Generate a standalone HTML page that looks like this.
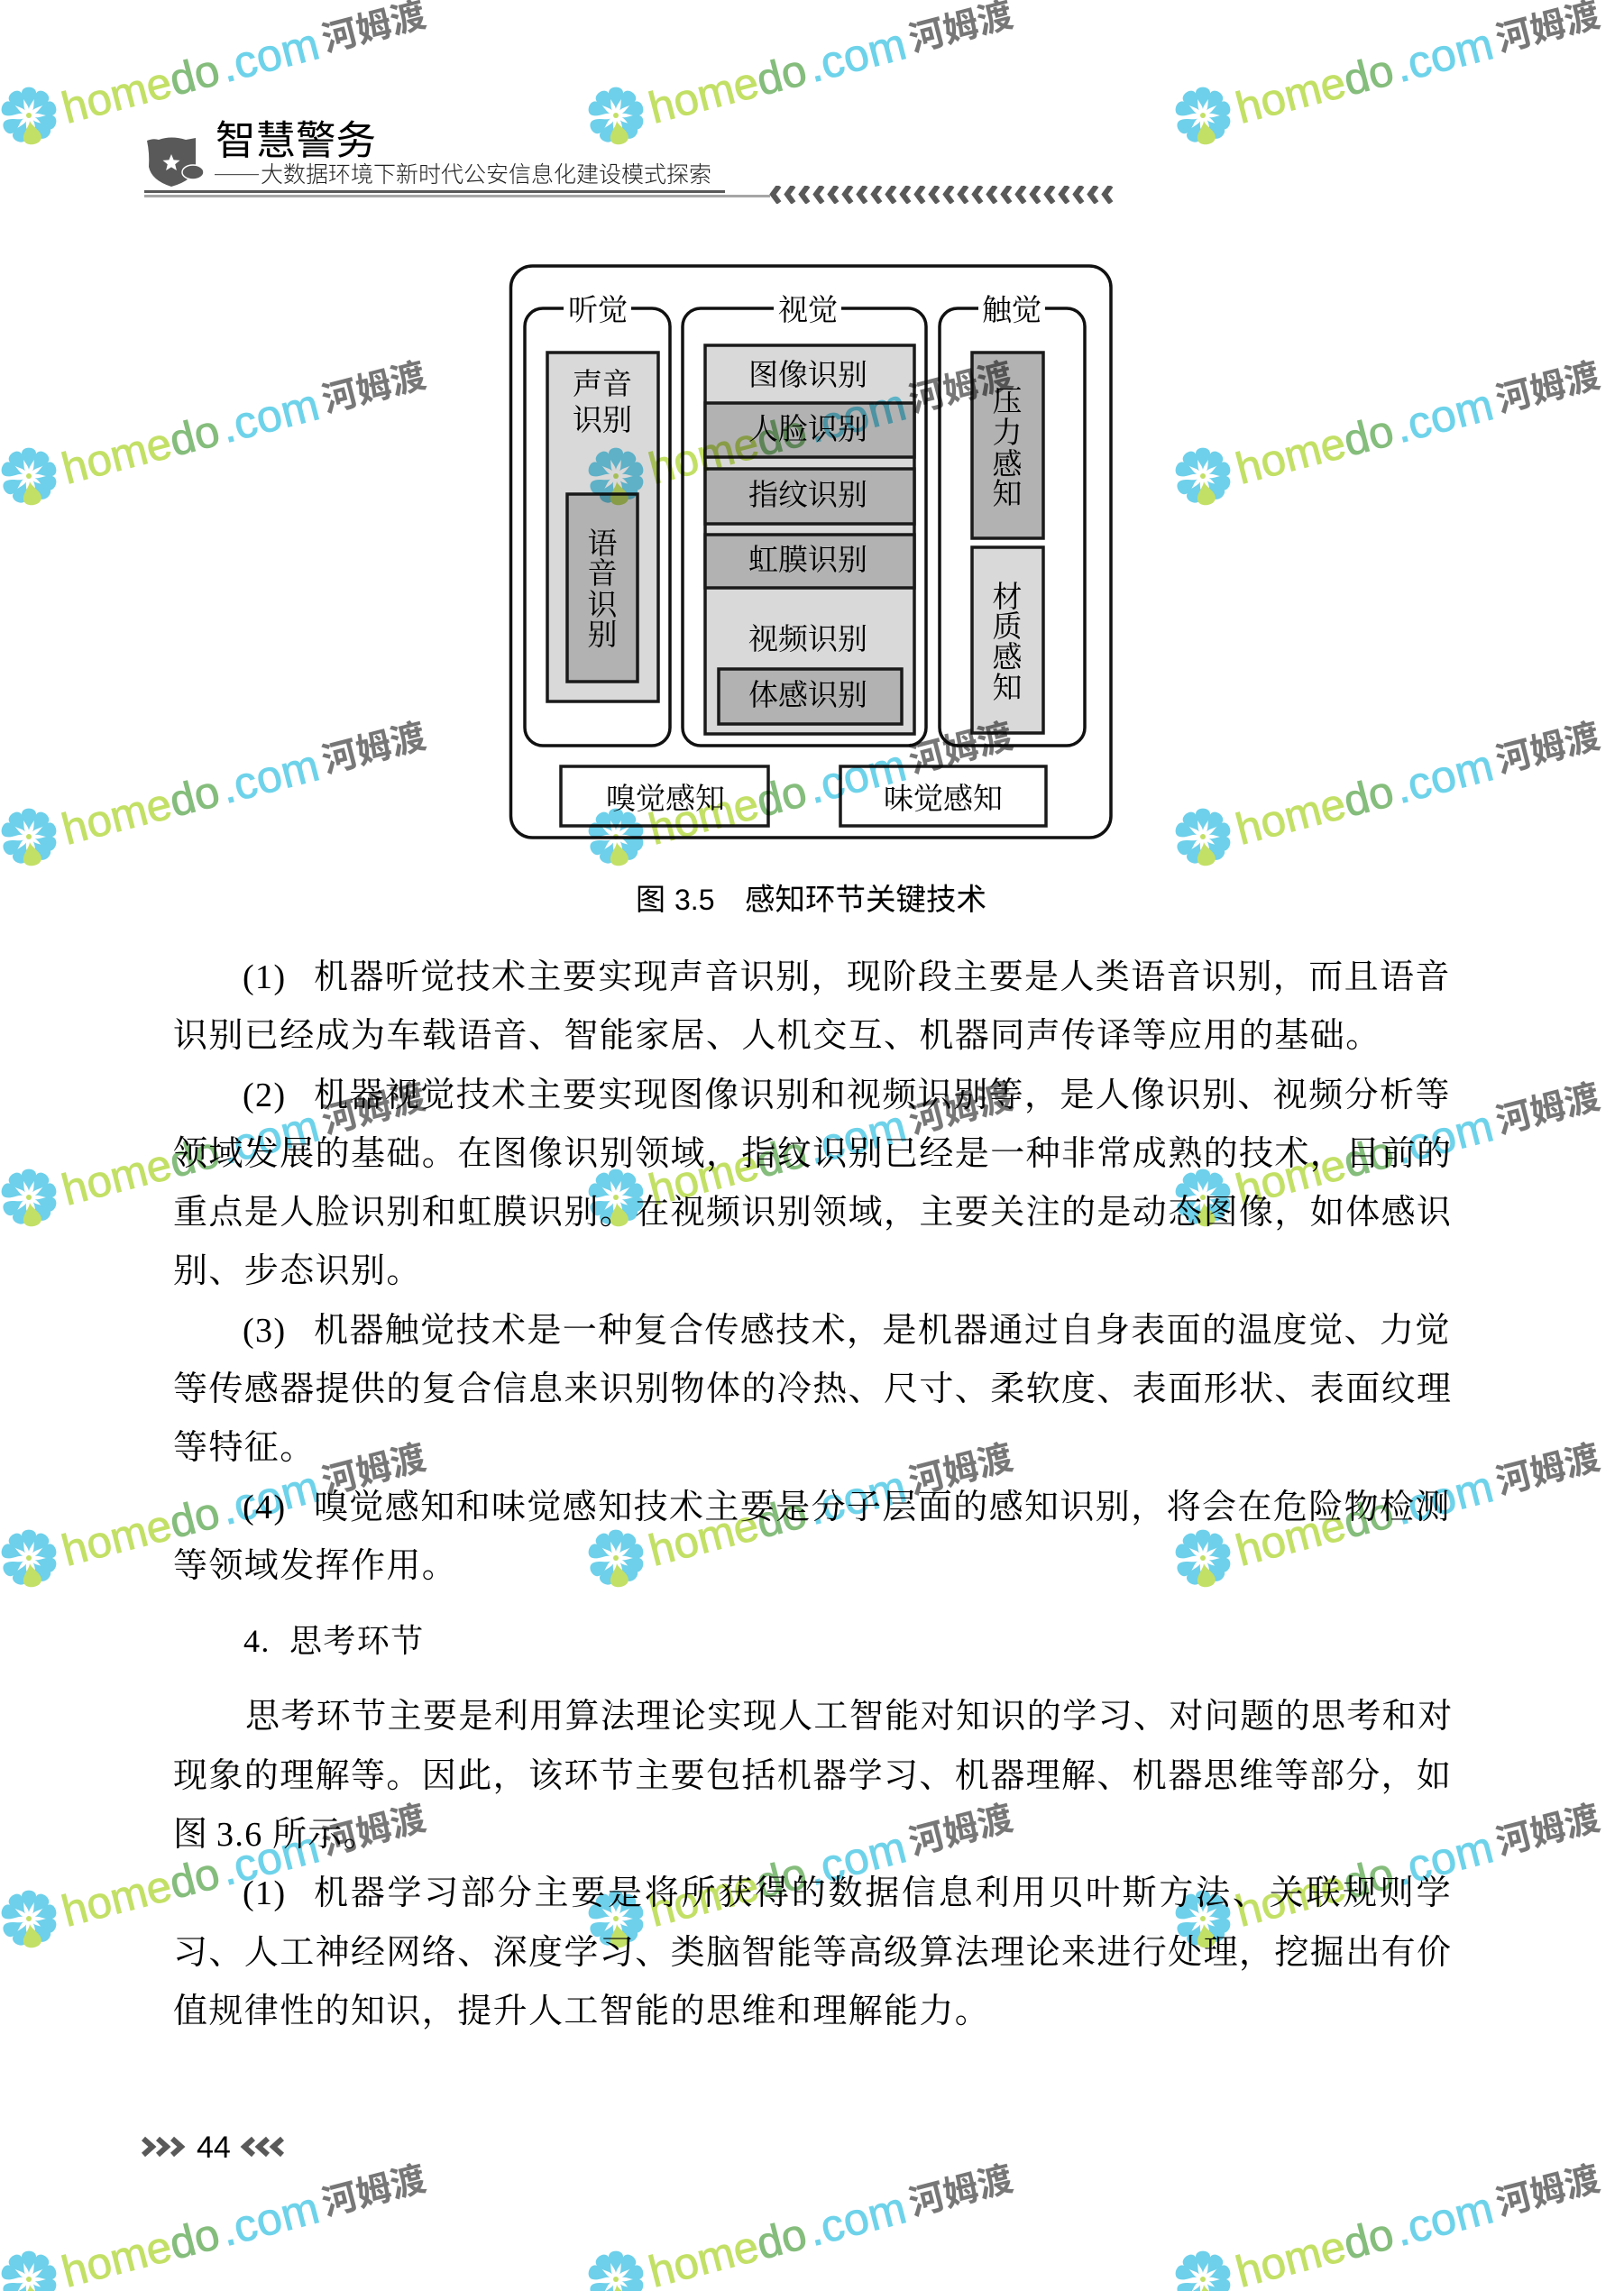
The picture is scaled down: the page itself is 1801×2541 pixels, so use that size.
<!DOCTYPE html>
<html lang="zh"><head><meta charset="utf-8"><title>智慧警务</title>
<style>
html,body{margin:0;padding:0;background:#fff}
svg{display:block}
.b{font-family:"Liberation Serif","Noto Serif CJK SC",serif;font-size:38px;letter-spacing:1.4px;fill:#000}
.d{font-family:"Liberation Serif","Noto Serif CJK SC",serif;font-size:33px;fill:#000;text-anchor:middle}
.h{font-family:"Liberation Sans","Noto Sans CJK SC",sans-serif}
.w1{font-family:"Liberation Sans",sans-serif;font-size:49px;fill:#c3e066;stroke:#c3e066;stroke-width:.9}
.w2{font-family:"Liberation Sans",sans-serif;font-size:50px;fill:#6ed3ea;stroke:#6ed3ea;stroke-width:.9}
.w3{font-family:"Liberation Sans","Noto Sans CJK SC",sans-serif;font-size:39px;font-weight:700;fill:#777}
.g{fill:#85bd7c;stroke:#85bd7c}
.bx{stroke:#1a1a1a;stroke-width:3.5}
.rb{fill:#fff;stroke:#111;stroke-width:3.5}
</style></head><body>
<svg xmlns="http://www.w3.org/2000/svg" width="1801" height="2541" viewBox="0 0 1801 2541">
<defs>
<path id="pt" d="M0,-7C-1,-13 -8,-18 -8,-25C-8,-33.5 8,-33.5 8,-25C8,-18 1,-13 0,-7Z"/>
<path id="pg" d="M0,-6C-1,-12 -10,-18 -10,-25C-10,-35 10,-35 10,-25C10,-18 1,-12 0,-6Z"/>
<g id="fl" transform="translate(32,128)">
<g fill="#6ed0ea">
<use href="#pt"/><use href="#pt" transform="rotate(36)"/><use href="#pt" transform="rotate(72)"/><use href="#pt" transform="rotate(108)"/><use href="#pt" transform="rotate(138)"/><use href="#pt" transform="rotate(204)"/><use href="#pt" transform="rotate(240)"/><use href="#pt" transform="rotate(288)"/><use href="#pt" transform="rotate(324)"/>
</g>
<use href="#pg" fill="#c3e066" transform="rotate(171)"/>
<circle r="3" fill="#c3e066"/>
</g>
<pattern id="chev" patternUnits="userSpaceOnUse" x="852" y="206" width="16" height="20">
<path d="M12,0L5,9.5L12,19" fill="none" stroke="#595959" stroke-width="6"/>
</pattern>
</defs>
<rect width="1801" height="2541" fill="#fff"/>

<!-- header -->
<path d="M163,156Q170,153 176,155Q190,150 206,155Q212,154 217,153L217,185Q215,200 190,207Q168,200 165,185Q166,170 163,156Z" fill="#595959"/>
<ellipse cx="214" cy="191" rx="12" ry="8" fill="#595959" stroke="#fff" stroke-width="1.5"/>
<polygon points="190,171 192.6,177.4 199.5,177.9 194.2,182.3 195.9,189 190,185.4 184.1,189 185.8,182.3 180.5,177.9 187.4,177.4" fill="#fff"/>
<text class="h" x="239" y="171" font-size="44.5" fill="#000">智慧警务</text>
<rect x="238" y="193" width="49" height="1.2" fill="#555"/>
<text class="h" x="289" y="202" font-size="25" font-weight="300" fill="#222">大数据环境下新时代公安信息化建设模式探索</text>
<rect x="160" y="211" width="644" height="3" fill="#595959"/>
<rect x="160" y="216" width="694" height="3" fill="#a6a6a6"/>
<rect x="852" y="206" width="385" height="20" fill="url(#chev)"/>

<!-- diagram -->
<rect x="566.5" y="295" width="665.5" height="634" rx="24" class="rb"/>
<rect x="582" y="342" width="161" height="485" rx="20" class="rb"/>
<rect x="757" y="342" width="270" height="485" rx="20" class="rb"/>
<rect x="1042" y="342" width="161" height="485" rx="20" class="rb"/>
<rect x="625" y="335" width="75" height="14" fill="#fff"/>
<rect x="858" y="335" width="75" height="14" fill="#fff"/>
<rect x="1085" y="335" width="74" height="14" fill="#fff"/>
<text class="d" x="663" y="355">听觉</text>
<text class="d" x="896" y="355">视觉</text>
<text class="d" x="1122" y="355">触觉</text>

<rect x="607" y="391" width="123" height="387" fill="#d9d9d9" class="bx"/>
<rect x="629" y="548" width="78" height="208" fill="#b2b2b2" class="bx"/>
<text class="d" x="668" y="437">声音</text>
<text class="d" x="668" y="477">识别</text>
<text class="d" x="668" y="614">语</text>
<text class="d" x="668" y="647">音</text>
<text class="d" x="668" y="682">识</text>
<text class="d" x="668" y="715">别</text>

<rect x="782" y="383" width="232" height="431" fill="#d9d9d9" class="bx"/>
<rect x="782" y="447" width="232" height="60" fill="#b2b2b2" class="bx"/>
<rect x="782" y="520" width="232" height="61" fill="#b2b2b2" class="bx"/>
<rect x="782" y="593" width="232" height="59" fill="#b2b2b2" class="bx"/>
<rect x="797" y="742" width="203" height="61" fill="#b2b2b2" class="bx"/>
<text class="d" x="896" y="427">图像识别</text>
<text class="d" x="896" y="487">人脸识别</text>
<text class="d" x="896" y="560">指纹识别</text>
<text class="d" x="896" y="632">虹膜识别</text>
<text class="d" x="896" y="720">视频识别</text>
<text class="d" x="896" y="782">体感识别</text>

<rect x="1078" y="391" width="79" height="206" fill="#b2b2b2" class="bx"/>
<rect x="1078" y="607" width="79" height="206" fill="#d9d9d9" class="bx"/>
<text class="d" x="1117" y="456">压</text>
<text class="d" x="1117" y="491">力</text>
<text class="d" x="1117" y="526">感</text>
<text class="d" x="1117" y="559">知</text>
<text class="d" x="1117" y="673">材</text>
<text class="d" x="1117" y="706">质</text>
<text class="d" x="1117" y="740">感</text>
<text class="d" x="1117" y="774">知</text>

<rect x="622" y="850" width="230" height="66" fill="#fff" class="bx"/>
<rect x="932" y="850" width="228" height="66" fill="#fff" class="bx"/>
<text class="d" x="738" y="897">嗅觉感知</text>
<text class="d" x="1046" y="897">味觉感知</text>

<text class="h" x="705" y="1009" font-size="33" fill="#000">图</text>
<text class="h" x="748" y="1009" font-size="32" fill="#000">3.5</text>
<text class="h" x="826" y="1009" font-size="33.5" fill="#000">感知环节关键技术</text>

<!-- body -->
<text class="b" x="269" y="1096">(1)</text>
<text class="b" x="348" y="1096">机器听觉技术主要实现声音识别，现阶段主要是人类语音识别，而且语音</text>
<text class="b" x="192" y="1161">识别已经成为车载语音、智能家居、人机交互、机器同声传译等应用的基础。</text>
<text class="b" x="269" y="1227">(2)</text>
<text class="b" x="348" y="1227">机器视觉技术主要实现图像识别和视频识别等，是人像识别、视频分析等</text>
<text class="b" x="192" y="1292">领域发展的基础。在图像识别领域，指纹识别已经是一种非常成熟的技术，目前的</text>
<text class="b" x="192" y="1357">重点是人脸识别和虹膜识别。在视频识别领域，主要关注的是动态图像，如体感识</text>
<text class="b" x="192" y="1422">别、步态识别。</text>
<text class="b" x="269" y="1488">(3)</text>
<text class="b" x="348" y="1488">机器触觉技术是一种复合传感技术，是机器通过自身表面的温度觉、力觉</text>
<text class="b" x="192" y="1553">等传感器提供的复合信息来识别物体的冷热、尺寸、柔软度、表面形状、表面纹理</text>
<text class="b" x="192" y="1618">等特征。</text>
<text class="b" x="269" y="1684">(4)</text>
<text class="b" x="348" y="1684">嗅觉感知和味觉感知技术主要是分子层面的感知识别，将会在危险物检测</text>
<text class="b" x="192" y="1749">等领域发挥作用。</text>
<text class="b" x="270" y="1832" style="font-size:36px">4.</text>
<text class="b" x="321" y="1832" style="font-size:36px">思考环节</text>
<text class="b" x="272" y="1916">思考环节主要是利用算法理论实现人工智能对知识的学习、对问题的思考和对</text>
<text class="b" x="192" y="1982">现象的理解等。因此，该环节主要包括机器学习、机器理解、机器思维等部分，如</text>
<text class="b" x="192" y="2047">图</text>
<text class="b" x="240" y="2047">3.6</text>
<text class="b" x="302" y="2047">所示。</text>
<text class="b" x="269" y="2112">(1)</text>
<text class="b" x="348" y="2112" textLength="1262">机器学习部分主要是将所获得的数据信息利用贝叶斯方法、关联规则学</text>
<text class="b" x="192" y="2178">习、人工神经网络、深度学习、类脑智能等高级算法理论来进行处理，挖掘出有价</text>
<text class="b" x="192" y="2243">值规律性的知识，提升人工智能的思维和理解能力。</text>

<!-- footer -->
<g fill="none" stroke="#595959" stroke-width="6">
<path d="M159,2372L169,2381L159,2390M175,2372L185,2381L175,2390M191,2372L201,2381L191,2390"/>
<path d="M281,2372L271,2381L281,2390M297,2372L287,2381L297,2390M313,2372L303,2381L313,2390"/>
</g>
<text x="218" y="2393" font-family="Liberation Sans,sans-serif" font-size="34" fill="#000">44</text>

<!-- watermarks -->
<g style="mix-blend-mode:multiply">
<g transform="translate(0,0)"><use href="#fl"/><g transform="translate(74,137) rotate(-14.5)"><text class="w1" textLength="178">home<tspan class="g">do</tspan></text><text class="w2" x="182" textLength="110">.com</text><text class="w3" x="298" y="-5">河姆渡</text></g></g>
<g transform="translate(651,0)"><use href="#fl"/><g transform="translate(74,137) rotate(-14.5)"><text class="w1" textLength="178">home<tspan class="g">do</tspan></text><text class="w2" x="182" textLength="110">.com</text><text class="w3" x="298" y="-5">河姆渡</text></g></g>
<g transform="translate(1302,0)"><use href="#fl"/><g transform="translate(74,137) rotate(-14.5)"><text class="w1" textLength="178">home<tspan class="g">do</tspan></text><text class="w2" x="182" textLength="110">.com</text><text class="w3" x="298" y="-5">河姆渡</text></g></g>
<g transform="translate(0,400)"><use href="#fl"/><g transform="translate(74,137) rotate(-14.5)"><text class="w1" textLength="178">home<tspan class="g">do</tspan></text><text class="w2" x="182" textLength="110">.com</text><text class="w3" x="298" y="-5">河姆渡</text></g></g>
<g transform="translate(651,400)"><use href="#fl"/><g transform="translate(74,137) rotate(-14.5)"><text class="w1" textLength="178">home<tspan class="g">do</tspan></text><text class="w2" x="182" textLength="110">.com</text><text class="w3" x="298" y="-5">河姆渡</text></g></g>
<g transform="translate(1302,400)"><use href="#fl"/><g transform="translate(74,137) rotate(-14.5)"><text class="w1" textLength="178">home<tspan class="g">do</tspan></text><text class="w2" x="182" textLength="110">.com</text><text class="w3" x="298" y="-5">河姆渡</text></g></g>
<g transform="translate(0,800)"><use href="#fl"/><g transform="translate(74,137) rotate(-14.5)"><text class="w1" textLength="178">home<tspan class="g">do</tspan></text><text class="w2" x="182" textLength="110">.com</text><text class="w3" x="298" y="-5">河姆渡</text></g></g>
<g transform="translate(651,800)"><use href="#fl"/><g transform="translate(74,137) rotate(-14.5)"><text class="w1" textLength="178">home<tspan class="g">do</tspan></text><text class="w2" x="182" textLength="110">.com</text><text class="w3" x="298" y="-5">河姆渡</text></g></g>
<g transform="translate(1302,800)"><use href="#fl"/><g transform="translate(74,137) rotate(-14.5)"><text class="w1" textLength="178">home<tspan class="g">do</tspan></text><text class="w2" x="182" textLength="110">.com</text><text class="w3" x="298" y="-5">河姆渡</text></g></g>
<g transform="translate(0,1200)"><use href="#fl"/><g transform="translate(74,137) rotate(-14.5)"><text class="w1" textLength="178">home<tspan class="g">do</tspan></text><text class="w2" x="182" textLength="110">.com</text><text class="w3" x="298" y="-5">河姆渡</text></g></g>
<g transform="translate(651,1200)"><use href="#fl"/><g transform="translate(74,137) rotate(-14.5)"><text class="w1" textLength="178">home<tspan class="g">do</tspan></text><text class="w2" x="182" textLength="110">.com</text><text class="w3" x="298" y="-5">河姆渡</text></g></g>
<g transform="translate(1302,1200)"><use href="#fl"/><g transform="translate(74,137) rotate(-14.5)"><text class="w1" textLength="178">home<tspan class="g">do</tspan></text><text class="w2" x="182" textLength="110">.com</text><text class="w3" x="298" y="-5">河姆渡</text></g></g>
<g transform="translate(0,1600)"><use href="#fl"/><g transform="translate(74,137) rotate(-14.5)"><text class="w1" textLength="178">home<tspan class="g">do</tspan></text><text class="w2" x="182" textLength="110">.com</text><text class="w3" x="298" y="-5">河姆渡</text></g></g>
<g transform="translate(651,1600)"><use href="#fl"/><g transform="translate(74,137) rotate(-14.5)"><text class="w1" textLength="178">home<tspan class="g">do</tspan></text><text class="w2" x="182" textLength="110">.com</text><text class="w3" x="298" y="-5">河姆渡</text></g></g>
<g transform="translate(1302,1600)"><use href="#fl"/><g transform="translate(74,137) rotate(-14.5)"><text class="w1" textLength="178">home<tspan class="g">do</tspan></text><text class="w2" x="182" textLength="110">.com</text><text class="w3" x="298" y="-5">河姆渡</text></g></g>
<g transform="translate(0,2000)"><use href="#fl"/><g transform="translate(74,137) rotate(-14.5)"><text class="w1" textLength="178">home<tspan class="g">do</tspan></text><text class="w2" x="182" textLength="110">.com</text><text class="w3" x="298" y="-5">河姆渡</text></g></g>
<g transform="translate(651,2000)"><use href="#fl"/><g transform="translate(74,137) rotate(-14.5)"><text class="w1" textLength="178">home<tspan class="g">do</tspan></text><text class="w2" x="182" textLength="110">.com</text><text class="w3" x="298" y="-5">河姆渡</text></g></g>
<g transform="translate(1302,2000)"><use href="#fl"/><g transform="translate(74,137) rotate(-14.5)"><text class="w1" textLength="178">home<tspan class="g">do</tspan></text><text class="w2" x="182" textLength="110">.com</text><text class="w3" x="298" y="-5">河姆渡</text></g></g>
<g transform="translate(0,2400)"><use href="#fl"/><g transform="translate(74,137) rotate(-14.5)"><text class="w1" textLength="178">home<tspan class="g">do</tspan></text><text class="w2" x="182" textLength="110">.com</text><text class="w3" x="298" y="-5">河姆渡</text></g></g>
<g transform="translate(651,2400)"><use href="#fl"/><g transform="translate(74,137) rotate(-14.5)"><text class="w1" textLength="178">home<tspan class="g">do</tspan></text><text class="w2" x="182" textLength="110">.com</text><text class="w3" x="298" y="-5">河姆渡</text></g></g>
<g transform="translate(1302,2400)"><use href="#fl"/><g transform="translate(74,137) rotate(-14.5)"><text class="w1" textLength="178">home<tspan class="g">do</tspan></text><text class="w2" x="182" textLength="110">.com</text><text class="w3" x="298" y="-5">河姆渡</text></g></g>
</g>
</svg>
</body></html>
